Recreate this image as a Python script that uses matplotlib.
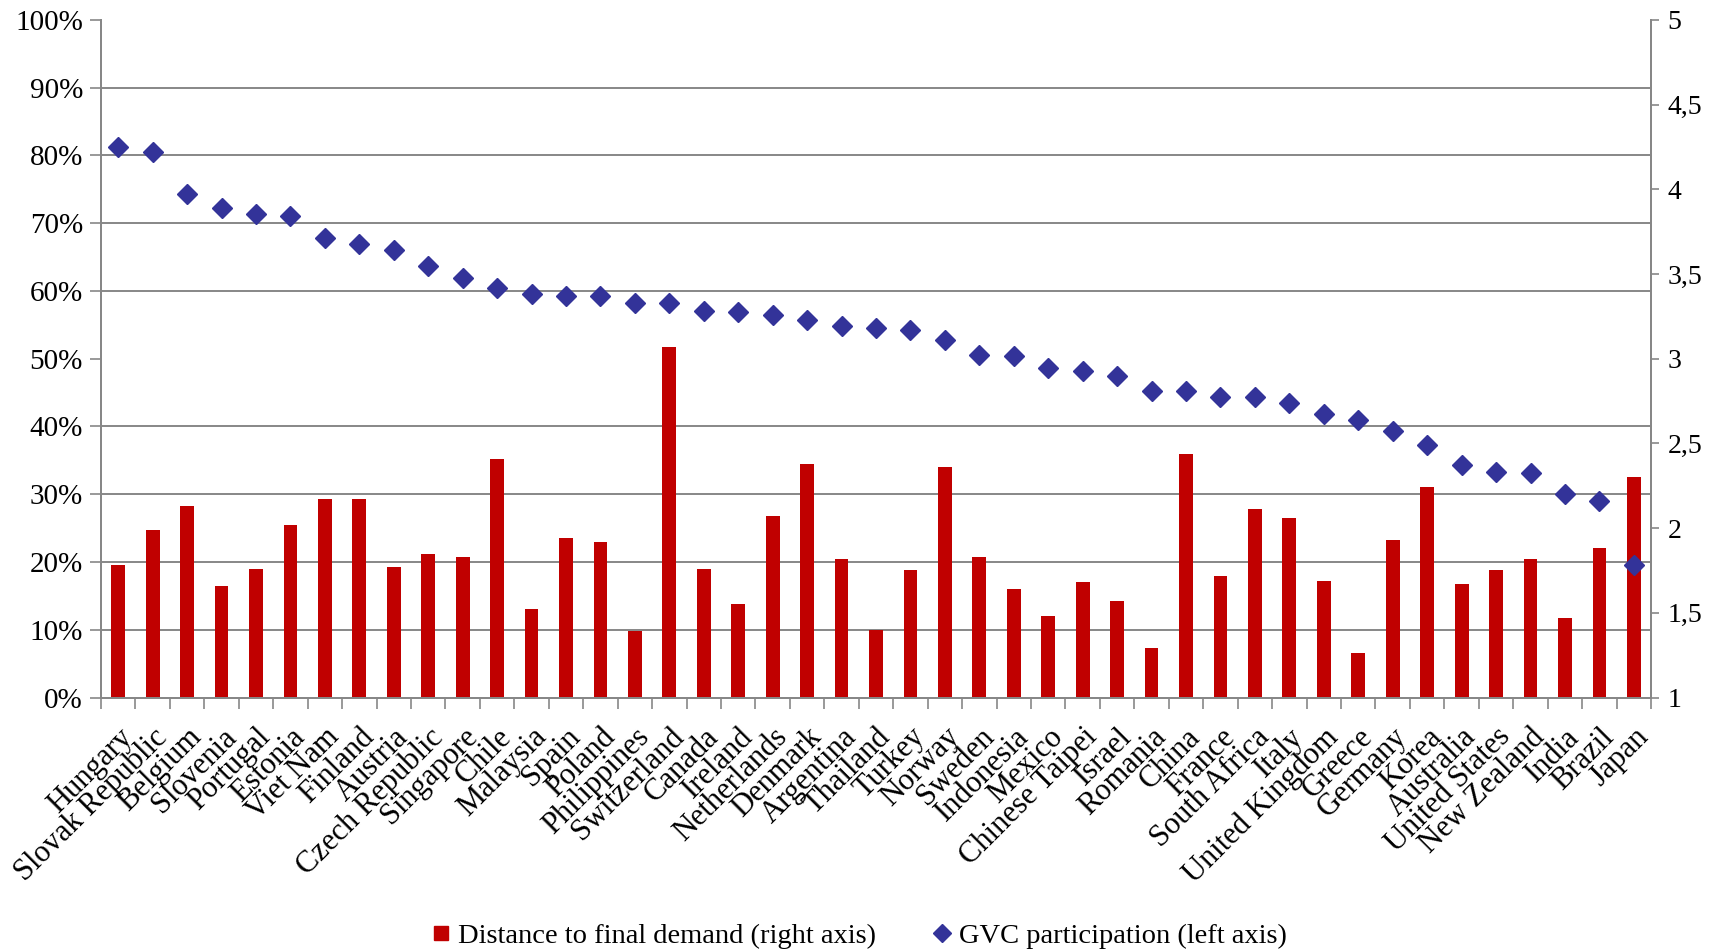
import numpy as np
import matplotlib
matplotlib.use('Agg')
import matplotlib.pyplot as plt
from matplotlib.lines import Line2D
from matplotlib.ticker import FuncFormatter, MultipleLocator

countries = ['Hungary', 'Slovak Republic', 'Belgium', 'Slovenia', 'Portugal', 'Estonia',
             'Viet Nam', 'Finland', 'Austria', 'Czech Republic', 'Singapore', 'Chile',
             'Malaysia', 'Spain', 'Poland', 'Philippines', 'Switzerland', 'Canada',
             'Ireland', 'Netherlands', 'Denmark', 'Argentina', 'Thailand', 'Turkey',
             'Norway', 'Sweden', 'Indonesia', 'Mexico', 'Chinese Taipei', 'Israel',
             'Romania', 'China', 'France', 'South Africa', 'Italy', 'United Kingdom',
             'Greece', 'Germany', 'Korea', 'Australia', 'United States', 'New Zealand',
             'India', 'Brazil', 'Japan']

# GVC participation index, % (left axis)
gvc_participation = [81.3, 80.5, 74.3, 72.3, 71.4, 71.0,
                     67.8, 66.9, 66.0, 63.7, 61.9, 60.4,
                     59.6, 59.3, 59.3, 58.2, 58.2, 57.1,
                     56.9, 56.5, 55.7, 54.8, 54.5, 54.2,
                     52.8, 50.6, 50.4, 48.6, 48.2, 47.4,
                     45.2, 45.2, 44.4, 44.3, 43.4, 41.9,
                     40.9, 39.3, 37.3, 34.3, 33.3, 33.2,
                     30.1, 29.0, 19.5]

# distance to final demand (right axis)
distance_final_demand = [1.78, 1.99, 2.13, 1.66, 1.76, 2.02,
                         2.17, 2.17, 1.77, 1.85, 1.83, 2.41,
                         1.52, 1.94, 1.92, 1.39, 3.07, 1.76,
                         1.55, 2.07, 2.38, 1.82, 1.40, 1.75,
                         2.36, 1.83, 1.64, 1.48, 1.68, 1.57,
                         1.29, 2.44, 1.72, 2.11, 2.06, 1.69,
                         1.26, 1.93, 2.24, 1.67, 1.75, 1.82,
                         1.47, 1.88, 2.30]

RED = '#C00000'
BLUE = '#333399'
GREY = '#878787'

plt.rcParams['font.family'] = ['Liberation Serif', 'DejaVu Serif']
plt.rcParams['font.size'] = 21

fig = plt.figure(figsize=(17.09, 9.49), dpi=100)
ax = fig.add_axes([0.0591, 0.265, 0.907, 0.714])
ax2 = ax.twinx()

x = np.arange(len(countries))

# bars on the right axis, drawn behind the diamonds
ax2.bar(x, distance_final_demand, width=0.4, color=RED, zorder=2)
ax2.set_ylim(1, 5)
ax2.yaxis.set_major_locator(MultipleLocator(0.5))
ax2.yaxis.set_major_formatter(FuncFormatter(lambda v, p: f'{v:g}'.replace('.', ',')))
ax2.set_yticks(np.linspace(1, 5, 11), minor=True)
ax2.grid(which='minor', axis='y', color=GREY, linewidth=1.4, zorder=0)
ax2.tick_params(axis='y', which='major', length=6, width=1.2, color=GREY, pad=6,
                labelsize=20)
ax2.tick_params(axis='y', which='minor', length=0)

ax.set_zorder(ax2.get_zorder() + 1)
ax.patch.set_visible(False)
ax.plot(x, gvc_participation, linestyle='none', marker='D', markersize=10.5,
        color=BLUE, zorder=3)
ax.set_ylim(0, 100)
ax.yaxis.set_major_locator(MultipleLocator(10))
ax.yaxis.set_major_formatter(FuncFormatter(lambda v, p: f'{v:.0f}%'))
ax.tick_params(axis='y', length=8, width=1.2, color=GREY, pad=5)

ax.set_xlim(-0.5, len(countries) - 0.5)
ax.set_xticks(x)
ax.set_xticklabels(countries, rotation=45, ha='right', rotation_mode='anchor',
                   fontsize=22)
ax.set_xticks(np.arange(len(countries) + 1) - 0.5, minor=True)
ax.tick_params(axis='x', which='major', length=0, pad=18)
ax.tick_params(axis='x', which='minor', length=8, width=1.2, color=GREY)

for a in (ax, ax2):
    a.spines['top'].set_visible(False)
    for side in ('left', 'right', 'bottom'):
        a.spines[side].set_color(GREY)
        a.spines[side].set_linewidth(1.4)

handles = [Line2D([], [], linestyle='none', marker='s', markersize=10, color=RED),
           Line2D([], [], linestyle='none', marker='D', markersize=9, color=BLUE)]
fig.legend(handles, ['Distance to final demand (right axis)', 'GVC participation (left axis)'],
           loc='center', bbox_to_anchor=(0.503, 0.014), ncol=2, frameon=False,
           handlelength=0.6, handletextpad=0.3, columnspacing=2.0, fontsize=20.5)

fig.savefig('out.png', dpi=100)
